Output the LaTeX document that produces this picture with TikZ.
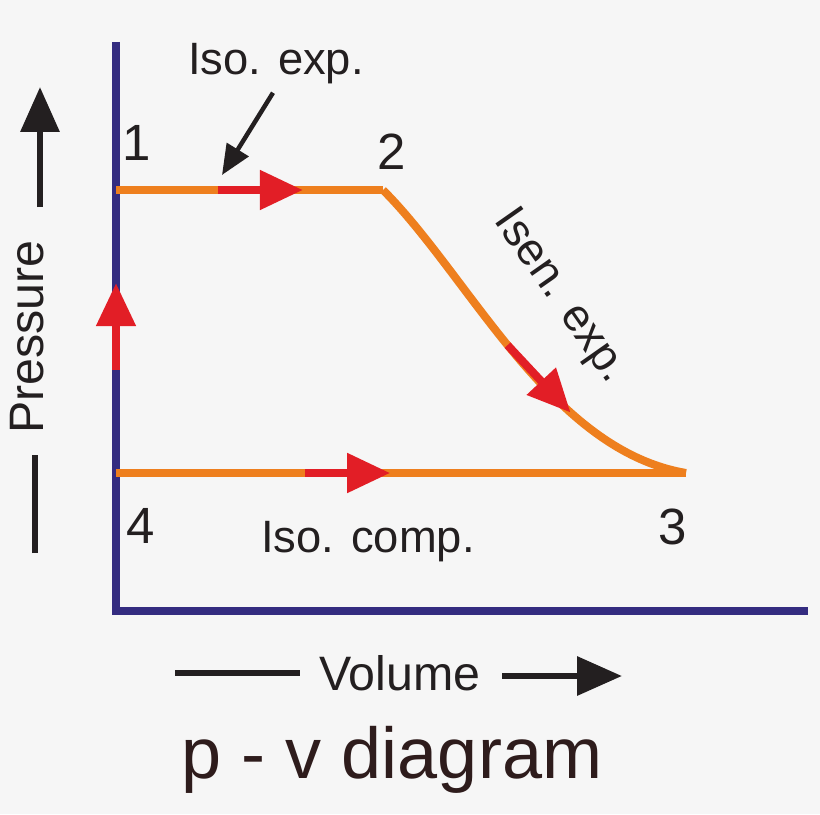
\documentclass[tikz,border=0pt]{standalone}
\usepackage{fontspec}
\setmainfont{Liberation Sans}
\usetikzlibrary{arrows.meta, calc}
\definecolor{axisblue}{RGB}{52,44,128}
\definecolor{pathorange}{RGB}{238,127,30}
\definecolor{flowred}{RGB}{226,30,38}
\definecolor{inkgray}{RGB}{35,31,32}
\definecolor{titlecol}{RGB}{46,28,28}
\definecolor{bggray}{RGB}{246,246,246}

\begin{document}
\begin{tikzpicture}[
  x=0.02cm, y=-0.02cm,
  axisline/.style={draw=axisblue, line width=0.16cm},
  process/.style={draw=pathorange, line width=0.16cm},
  flow/.style={draw=flowred, line width=0.16cm,
               -{Triangle[length=0.86cm, width=0.76cm]}},
  pointer/.style={draw=inkgray, line width=0.09cm,
                  -{Triangle[length=0.6cm, width=0.5cm]}},
  dirbar/.style={draw=inkgray, line width=0.13cm},
  dirarr/.style={dirbar, -{Triangle[length=0.9cm, width=0.76cm]}},
  txt/.style={text=inkgray, inner sep=0pt, font=\fontsize{25.8}{30}\selectfont},
  statenum/.style={text=inkgray, inner sep=0pt, font=\fontsize{29}{34}\selectfont},
  axtitle/.style={text=inkgray, inner sep=0pt, font=\fontsize{27.5}{32}\selectfont},
  heading/.style={text=titlecol, inner sep=0pt, font=\fontsize{41}{48}\selectfont}
]

% ── Canvas ───────────────────────────────────────────────────────────────
\fill[bggray] (0,0) rectangle (820,814);
\useasboundingbox (0,0) rectangle (820,814);

% ── Axes ─────────────────────────────────────────────────────────────────
\coordinate (ytop)   at (116,42);
\coordinate (origin) at (116,611);
\coordinate (xend)   at (808,611);
\draw[axisline] (ytop) -- (origin) -- (xend);

% ── State points ─────────────────────────────────────────────────────────
\coordinate (p1) at (116,190);
\coordinate (p2) at (383,190);
\coordinate (p3) at (686,473);
\coordinate (p4) at (116,473);

% ── Cycle: orange process lines ──────────────────────────────────────────
\draw[process] (p1) -- (p2);
\draw[process] (p2) .. controls (470,277) and (550,450) .. (p3)
      coordinate[pos=0.47] (sa) coordinate[pos=0.68] (sb);
\draw[process] (p4) -- (p3);

% ── Direction arrows (red) ───────────────────────────────────────────────
\draw[flow] ($(p1)!0.382!(p2)$) -- ($(p1)!0.700!(p2)$);
\draw[flow] (sa) -- (sb);
\draw[flow] ($(p4)!0.332!(p3)$) -- ($(p4)!0.481!(p3)$);
\draw[flow] ($(p4)!0.364!(p1)$) -- ($(p4)!0.671!(p1)$);

% ── State numbers ────────────────────────────────────────────────────────
\node[statenum] (n1) at (137,143) {1};
\node[statenum] (n2) at (392,152) {2};
\node[statenum] (n3) at (673,527) {3};
\node[statenum] (n4) at (141,526) {4};

% ── Process labels ───────────────────────────────────────────────────────
\node[txt, anchor=base] (isoexp) at (276,75) {Iso. exp.};
\coordinate (isotip) at (222,175);
\draw[pointer] ($(isoexp.south)+(-3,8)$) -- (isotip);

\node[txt, anchor=base, rotate=-55] (isenexp) at (551,303) {Isen. exp.};
\node[txt, anchor=base] (isocomp) at (368,552) {Iso. comp.};

% ── Axis titles ──────────────────────────────────────────────────────────
\node[axtitle, anchor=base, rotate=90] (pres) at (43,337) {Pressure};
\coordinate (pb1) at (35,553);
\coordinate (pb2) at (35,455);
\coordinate (pa1) at (40,207);
\coordinate (pa2) at (40,87);
\draw[dirbar] (pb1) -- (pb2);
\draw[dirarr] (pa1) -- (pa2);

\node[axtitle, anchor=base] (vol) at (400,690) {Volume};
\coordinate (vb1) at (175,673);
\coordinate (vb2) at (300,673);
\coordinate (va1) at (502,676);
\coordinate (va2) at (622,676);
\draw[dirbar] (vb1) -- (vb2);
\draw[dirarr] (va1) -- (va2);

% ── Title ────────────────────────────────────────────────────────────────
\node[heading, anchor=base] (ttl) at (392,778) {p - v diagram};

\end{tikzpicture}
\end{document}
